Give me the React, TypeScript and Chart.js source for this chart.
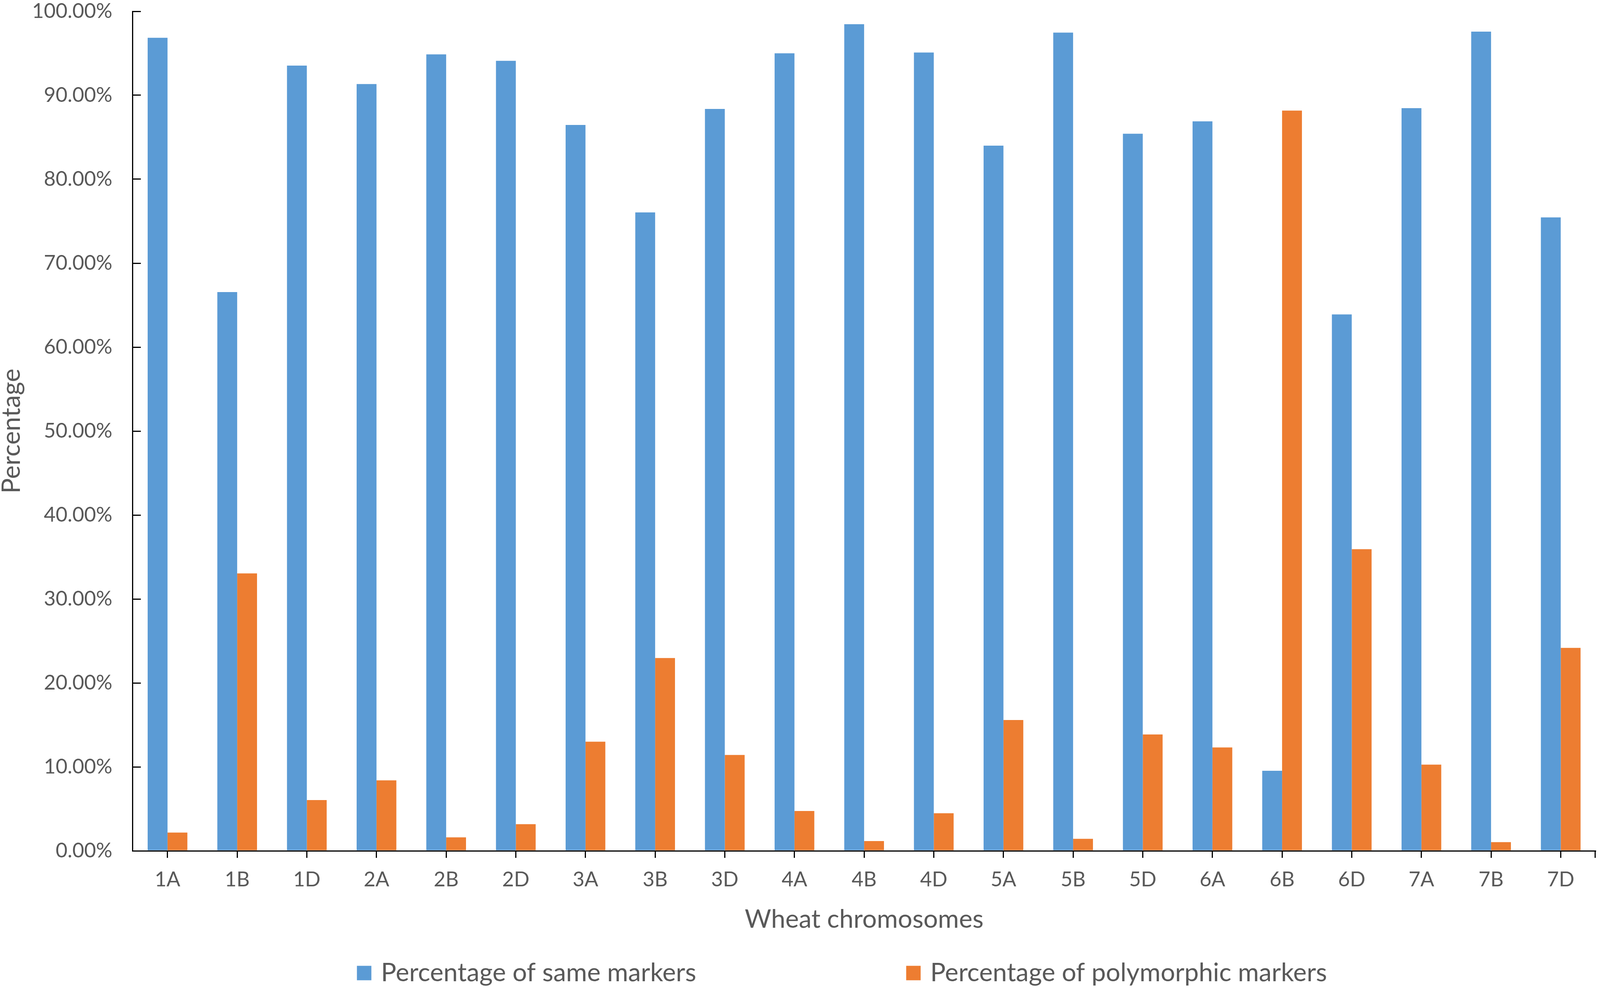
import React, { useEffect, useRef } from "react";
import { Chart, registerables } from "chart.js";

Chart.register(...registerables);

const categories = ["1A", "1B", "1D", "2A", "2B", "2D", "3A", "3B", "3D", "4A", "4B", "4D", "5A", "5B", "5D", "6A", "6B", "6D", "7A", "7B", "7D"];
const sameMarkers = [96.85, 66.56, 93.53, 91.34, 94.87, 94.1, 86.47, 76.05, 88.37, 95.0, 98.47, 95.09, 84.0, 97.46, 85.42, 86.9, 9.53, 63.9, 88.47, 97.58, 75.45];
const polymorphicMarkers = [2.17, 33.05, 6.05, 8.4, 1.6, 3.18, 13.0, 22.96, 11.42, 4.75, 1.16, 4.48, 15.58, 1.43, 13.86, 12.31, 88.18, 35.93, 10.27, 1.04, 24.18];
const seriesLabels = ["Percentage of same markers", "Percentage of polymorphic markers"];
const seriesColors = ["#5B9BD5", "#ED7D31"];
const yAxisTitle = "Percentage";
const xAxisTitle = "Wheat chromosomes";

const REF_W = 4317;
const REF_H = 2538;
const FONT = "Lato";
const TEXT = "#595959";
const AXIS = "#000000";

function makeLegendPlugin(sx: number, sy: number, fontSize: number) {
  return {
    id: "excelLegend",
    afterDraw(chart: any) {
      const { ctx, chartArea } = chart;
      ctx.save();
      // tick mark at the right end of the category axis
      ctx.strokeStyle = AXIS;
      ctx.lineWidth = 3;
      ctx.beginPath();
      ctx.moveTo(chartArea.right - 1, chartArea.bottom);
      ctx.lineTo(chartArea.right - 1, chartArea.bottom + 18 * sy);
      ctx.stroke();

      // legend
      const boxX = [963 * sx, 2445 * sx];
      const cy = 2492 * sy;
      const box = 39 * Math.min(sx, sy);
      ctx.font = `${fontSize}px ${FONT}`;
      ctx.textBaseline = "middle";
      ctx.textAlign = "left";
      chart.data.datasets.forEach((ds: any, i: number) => {
        ctx.fillStyle = ds.backgroundColor;
        ctx.fillRect(boxX[i], cy - box / 2, box, box);
        ctx.fillStyle = TEXT;
        ctx.fillText(ds.label, boxX[i] + box + 26 * sx, cy);
      });
      ctx.restore();
    },
  };
}

export default function App() {
  const ref = useRef<HTMLCanvasElement | null>(null);

  useEffect(() => {
    const canvas = ref.current;
    if (!canvas) return;
    const w = window.innerWidth || REF_W;
    const h = window.innerHeight || REF_H;
    canvas.width = w;
    canvas.height = h;
    canvas.style.width = w + "px";
    canvas.style.height = h + "px";
    const sx = w / REF_W;
    const sy = h / REF_H;
    const fs = Math.min(sx, sy);
    const tickFont = 55 * fs;
    const titleFont = 69 * fs;

    const chart = new Chart(canvas, {
      type: "bar",
      data: {
        labels: categories,
        datasets: [
          { label: seriesLabels[0], data: sameMarkers, backgroundColor: seriesColors[0], borderWidth: 0 },
          { label: seriesLabels[1], data: polymorphicMarkers, backgroundColor: seriesColors[1], borderWidth: 0 },
        ],
      },
      options: {
        animation: false,
        responsive: false,
        devicePixelRatio: 1,
        layout: { padding: { top: 29 * sy, right: 12 * sx, bottom: 144 * sy, left: 0 } },
        datasets: { bar: { categoryPercentage: 0.57, barPercentage: 1.0 } },
        plugins: {
          legend: { display: false },
          tooltip: { enabled: false },
          title: { display: false },
        },
        scales: {
          x: {
            grid: {
              offset: false,
              drawOnChartArea: false,
              drawTicks: true,
              tickLength: 18 * sy,
              color: AXIS,
              lineWidth: 3,
            },
            border: { display: true, color: AXIS, width: 3 },
            ticks: {
              color: TEXT,
              font: { family: FONT, size: tickFont, lineHeight: 1.2 },
              padding: 25 * sy,
              maxRotation: 0,
              autoSkip: false,
            },
            title: {
              display: true,
              text: xAxisTitle,
              color: TEXT,
              font: { family: FONT, size: titleFont, lineHeight: 1.2 },
              padding: { top: 0, bottom: 0 },
            },
            afterFit: (scale: any) => {
              scale.height = 215 * sy;
            },
          },
          y: {
            min: 0,
            max: 100,
            grid: {
              drawOnChartArea: false,
              drawTicks: true,
              tickLength: -22 * sx,
              color: AXIS,
              lineWidth: 3,
            },
            border: { display: true, color: AXIS, width: 3 },
            ticks: {
              stepSize: 10,
              color: TEXT,
              font: { family: FONT, size: tickFont, lineHeight: 1.0 },
              padding: 55 * sx + 22 * sx,
              callback: (v: any) => Number(v).toFixed(2) + "%",
            },
            title: {
              display: true,
              text: yAxisTitle,
              color: TEXT,
              font: { family: FONT, size: titleFont, lineHeight: 0.9 },
              padding: { top: 0, bottom: 0 },
            },
            afterFit: (scale: any) => {
              scale.width = 358 * sx;
              scale.paddingTop = 0;
              scale.paddingBottom = 0;
            },
          },
        },
      },
      plugins: [makeLegendPlugin(sx, sy, titleFont)],
    });
    return () => chart.destroy();
  }, []);

  return (
    <div style={{ position: "fixed", left: 0, top: 0, right: 0, bottom: 0, background: "#ffffff", overflow: "hidden" }}>
      <canvas ref={ref} style={{ display: "block" }} />
    </div>
  );
}
